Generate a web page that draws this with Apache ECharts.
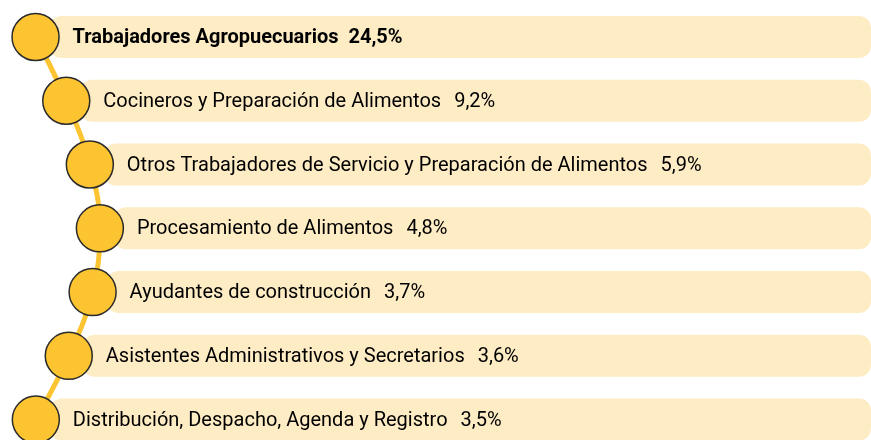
<!DOCTYPE html>
<html>
<head>
<meta charset="utf-8">
<script src="https://cdn.jsdelivr.net/npm/echarts@6/dist/echarts.min.js"></script>
<style>
  html, body { margin: 0; padding: 0; background: #fff; }
  #chart { width: 871px; height: 440px; }
</style>
</head>
<body>
<div id="chart"></div>
<script>
const categories = [
  'Trabajadores Agropuecuarios',
  'Cocineros y Preparación de Alimentos',
  'Otros Trabajadores de Servicio y Preparación de Alimentos',
  'Procesamiento de Alimentos',
  'Ayudantes de construcción',
  'Asistentes Administrativos y Secretarios',
  'Distribución, Despacho, Agenda y Registro'
];
const shares = [24.5, 9.2, 5.9, 4.8, 3.7, 3.6, 3.5];

// bullets sit on a gentle bow: rightmost near the middle rows
function bulletX(i) {
  const dy = (i - 3.12) * 63.8;
  const span = dy < 0 ? 121 : 112;
  return 100 - 60 * (1 - Math.cos(dy / span));
}

const fmt = v => v.toFixed(1).replace('.', ',') + '%';

const chart = echarts.init(document.getElementById('chart'));
chart.setOption({
  animation: false,
  grid: { left: 0, right: 0, top: 0, bottom: 0 },
  xAxis: { type: 'value', min: 0, max: 871, show: false },
  yAxis: { type: 'value', min: -0.58, max: 6.32, inverse: true, show: false },
  series: [
    {
      type: 'custom',
      z: 1,
      data: shares.map((v, i) => [v, i]),
      renderItem: function (params, api) {
        const i = api.value(1);
        const p = api.coord([bulletX(i), i]);
        const end = api.coord([871, i])[0];
        const bold = i === 0;
        const base = { fontFamily: 'Roboto', fontSize: 20, fontWeight: bold ? 'bold' : 'normal', color: '#2b2826' };
        return {
          type: 'group',
          children: [
            {
              type: 'rect',
              shape: { x: p[0] + 14, y: p[1] - 21, width: end - p[0] - 14, height: 42, r: 12 },
              style: { fill: '#feecc4' }
            },
            {
              type: 'text',
              style: {
                x: p[0] + 37,
                y: p[1] + 1,
                text: '{n|' + categories[i] + '}{p|' + fmt(api.value(0)) + '}',
                verticalAlign: 'middle',
                align: 'left',
                rich: {
                  n: base,
                  p: Object.assign({}, base, { padding: [0, 0, 0, bold ? 10 : 13] })
                }
              }
            }
          ]
        };
      }
    },
    {
      type: 'line',
      z: 2,
      smooth: 0.4,
      data: categories.map((c, i) => [bulletX(i), i]),
      lineStyle: { color: '#fdc431', width: 5 },
      symbol: 'circle',
      symbolSize: 47,
      itemStyle: { color: '#fdc431', borderColor: '#2a2a2a', borderWidth: 1.5 }
    }
  ]
});
</script>
</body>
</html>
